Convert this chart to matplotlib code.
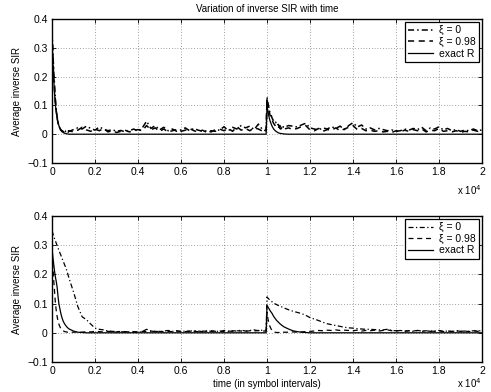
import numpy as np
import matplotlib
matplotlib.use("Agg")
import matplotlib.pyplot as plt

# time grid (symbol intervals)
t = np.concatenate([np.arange(0, 800, 40), np.arange(800, 10000, 200), [9960],
                    np.arange(10000, 10800, 40), np.arange(10800, 20001, 200)])

top_xi0 = [0.36, 0.29, 0.22, 0.17, 0.12, 0.085, 0.06, 0.042, 0.03, 0.022, 0.017, 0.013, 0.012, 0.010, 0.014, 0.012, 0.009, 0.011, 0.008, 0.012,
           0.010, 0.016, 0.022, 0.018, 0.028, 0.020, 0.014, 0.025, 0.018, 0.012, 0.016, 0.010, 0.013, 0.008, 0.012, 0.018, 0.010, 0.022, 0.045, 0.020,
           0.030, 0.015, 0.024, 0.012, 0.018, 0.010, 0.015, 0.022, 0.012, 0.020, 0.014, 0.010, 0.012, 0.008, 0.016, 0.014, 0.026, 0.012, 0.024, 0.018,
           0.030, 0.022, 0.028, 0.016, 0.035, 0.015,
           0.012,
           0.13, 0.11, 0.095, 0.08, 0.07, 0.065, 0.055, 0.05, 0.045, 0.04, 0.042, 0.035, 0.03, 0.034, 0.028, 0.03, 0.025, 0.028, 0.022, 0.026,
           0.024, 0.030, 0.028, 0.025, 0.032, 0.038, 0.022, 0.018, 0.015, 0.022, 0.018, 0.026, 0.020, 0.028, 0.016, 0.030, 0.040, 0.025, 0.032, 0.018,
           0.022, 0.015, 0.020, 0.016, 0.012, 0.015, 0.010, 0.012, 0.018, 0.014, 0.020, 0.016, 0.024, 0.012, 0.022, 0.018, 0.026, 0.015, 0.020, 0.012,
           0.016, 0.010, 0.014, 0.012, 0.018, 0.012, 0.015]

top_xi98 = [0.35, 0.27, 0.20, 0.15, 0.11, 0.08, 0.055, 0.04, 0.028, 0.02, 0.015, 0.012, 0.008, 0.010, 0.007, 0.009, 0.006, 0.008, 0.010, 0.007,
            0.012, 0.008, 0.014, 0.024, 0.015, 0.010, 0.018, 0.012, 0.020, 0.008, 0.012, 0.006, 0.010, 0.014, 0.008, 0.012, 0.016, 0.012, 0.030, 0.015,
            0.022, 0.010, 0.018, 0.008, 0.012, 0.016, 0.010, 0.014, 0.020, 0.012, 0.008, 0.014, 0.006, 0.012, 0.010, 0.018, 0.012, 0.020, 0.010, 0.026,
            0.014, 0.020, 0.012, 0.022, 0.018, 0.010,
            0.010,
            0.12, 0.10, 0.085, 0.072, 0.062, 0.055, 0.048, 0.042, 0.036, 0.032, 0.028, 0.030, 0.024, 0.022, 0.026, 0.020, 0.018, 0.022, 0.016, 0.020,
            0.018, 0.022, 0.016, 0.020, 0.026, 0.030, 0.015, 0.012, 0.020, 0.010, 0.016, 0.014, 0.022, 0.012, 0.018, 0.024, 0.030, 0.016, 0.020, 0.012,
            0.014, 0.010, 0.012, 0.008, 0.010, 0.006, 0.012, 0.008, 0.014, 0.010, 0.016, 0.012, 0.018, 0.008, 0.014, 0.012, 0.020, 0.010, 0.012, 0.008,
            0.012, 0.006, 0.010, 0.008, 0.014, 0.010, 0.012]

top_exact = [0.35, 0.25, 0.19, 0.14, 0.10, 0.075, 0.055, 0.04, 0.03, 0.022, 0.016, 0.012, 0.009, 0.006, 0.004, 0.003, 0.002, 0.0015, 0.001, 0.0005,
             0, 0, 0, 0, 0, 0, 0, 0, 0, 0, 0, 0, 0, 0, 0, 0, 0, 0, 0, 0,
             0, 0, 0, 0, 0, 0, 0, 0, 0, 0, 0, 0, 0, 0, 0, 0, 0, 0, 0, 0,
             0, 0, 0, 0, 0, 0,
             0,
             0.10, 0.08, 0.065, 0.052, 0.042, 0.034, 0.027, 0.022, 0.017, 0.014, 0.011, 0.009, 0.007, 0.005, 0.004, 0.003, 0.0025, 0.002, 0.0015, 0.001,
             0.0008, 0, 0, 0, 0, 0, 0, 0, 0, 0, 0, 0, 0, 0, 0, 0, 0, 0, 0, 0,
             0, 0, 0, 0, 0, 0, 0, 0, 0, 0, 0, 0, 0, 0, 0, 0, 0, 0, 0, 0,
             0, 0, 0, 0, 0, 0, 0]

bot_xi0 = [0.35, 0.34, 0.33, 0.322, 0.315, 0.305, 0.298, 0.29, 0.282, 0.275, 0.268, 0.26, 0.252, 0.245, 0.238, 0.23, 0.225, 0.215, 0.205, 0.195,
           0.185, 0.14, 0.09, 0.055, 0.045, 0.03, 0.016, 0.012, 0.010, 0.006, 0.005, 0.004, 0.003, 0.004, 0.002, 0.003, 0.002, 0.004, 0.012, 0.006,
           0.005, 0.004, 0.006, 0.008, 0.005, 0.007, 0.004, 0.006, 0.005, 0.008, 0.006, 0.004, 0.007, 0.005, 0.006, 0.004, 0.008, 0.005, 0.007, 0.006,
           0.009, 0.006, 0.008, 0.010, 0.007, 0.009,
           0.008,
           0.123, 0.119, 0.116, 0.113, 0.111, 0.109, 0.106, 0.104, 0.102, 0.100, 0.098, 0.097, 0.095, 0.094, 0.093, 0.092, 0.091, 0.089, 0.088, 0.087,
           0.085, 0.079, 0.074, 0.070, 0.066, 0.060, 0.052, 0.047, 0.042, 0.036, 0.031, 0.028, 0.025, 0.022, 0.019, 0.017, 0.016, 0.014, 0.013, 0.012,
           0.012, 0.011, 0.010, 0.010, 0.012, 0.008, 0.007, 0.008, 0.006, 0.007, 0.005, 0.008, 0.006, 0.007, 0.005, 0.006, 0.008, 0.005, 0.006, 0.004,
           0.007, 0.005, 0.006, 0.005, 0.007, 0.006, 0.008]

bot_xi98 = [0.27, 0.23, 0.18, 0.14, 0.10, 0.075, 0.055, 0.04, 0.03, 0.022, 0.016, 0.012, 0.009, 0.007, 0.005, 0.004, 0.003, 0.003, 0.002, 0.002,
            0.002, 0.002, 0.003, 0.002, 0.004, 0.003, 0.005, 0.004, 0.003, 0.005, 0.004, 0.003, 0.005, 0.004, 0.003, 0.004, 0.003, 0.005, 0.004, 0.006,
            0.004, 0.005, 0.003, 0.005, 0.004, 0.006, 0.005, 0.004, 0.006, 0.005, 0.004, 0.006, 0.005, 0.007, 0.005, 0.006, 0.004, 0.006, 0.005, 0.007,
            0.006, 0.005, 0.007, 0.006, 0.008, 0.006,
            0.006,
            0.07, 0.05, 0.035, 0.025, 0.018, 0.012, 0.008, 0.005, 0.003, 0.002, 0.002, 0.001, 0.001, 0.001, 0.001, 0.002, 0.001, 0.002, 0.001, 0.002,
            0.002, 0.002, 0.003, 0.002, 0.003, 0.004, 0.005, 0.006, 0.008, 0.007, 0.009, 0.008, 0.010, 0.008, 0.009, 0.008, 0.007, 0.009, 0.006, 0.008,
            0.007, 0.009, 0.006, 0.008, 0.010, 0.007, 0.006, 0.008, 0.005, 0.007, 0.006, 0.008, 0.005, 0.007, 0.006, 0.005, 0.007, 0.004, 0.006, 0.005,
            0.007, 0.005, 0.006, 0.004, 0.007, 0.005, 0.009]

bot_exact = [0.29, 0.26, 0.235, 0.21, 0.19, 0.175, 0.155, 0.125, 0.10, 0.085, 0.07, 0.058, 0.048, 0.04, 0.034, 0.029, 0.025, 0.021, 0.018, 0.015,
             0.013, 0.006, 0.002, 0.001, 0, 0, 0, 0, 0, 0, 0, 0, 0, 0, 0, 0, 0, 0, 0, 0,
             0, 0, 0, 0, 0, 0, 0, 0, 0, 0, 0, 0, 0, 0, 0, 0, 0, 0, 0, 0,
             0, 0, 0, 0, 0, 0,
             0,
             0.094, 0.089, 0.084, 0.079, 0.074, 0.070, 0.066, 0.060, 0.055, 0.051, 0.047, 0.043, 0.040, 0.037, 0.034, 0.031, 0.029, 0.026, 0.024, 0.022,
             0.020, 0.013, 0.007, 0.004, 0.002, 0.001, 0, 0, 0, 0, 0, 0, 0, 0, 0, 0, 0, 0, 0, 0,
             0, 0, 0, 0, 0, 0, 0, 0, 0, 0, 0, 0, 0, 0, 0, 0, 0, 0, 0, 0,
             0, 0, 0, 0, 0, 0, 0]

xticks = [0, 2000, 4000, 6000, 8000, 10000, 12000, 14000, 16000, 18000, 20000]
xticklabels = ["0", "0.2", "0.4", "0.6", "0.8", "1", "1.2", "1.4", "1.6", "1.8", "2"]
yticks = [-0.1, 0, 0.1, 0.2, 0.3, 0.4]
yticklabels = ["\u22120.1", "0", "0.1", "0.2", "0.3", "0.4"]
labels = ["\u03be = 0", "\u03be = 0.98", "exact R"]

plt.rcParams['font.family'] = ['Liberation Sans', 'DejaVu Sans']
plt.rcParams['font.size'] = 7

fig = plt.figure(figsize=(4.91, 3.92), dpi=100)
L, W = 52 / 491, 430 / 491
ax1 = fig.add_axes([L, 1 - 163 / 392, W, 144 / 392])
ax2 = fig.add_axes([L, 1 - 362 / 392, W, 146 / 392])

for ax, (a, b, c), off in zip([ax1, ax2],
                              [(top_xi0, top_xi98, top_exact), (bot_xi0, bot_xi98, bot_exact)],
                              [-27, -21]):
    lw_noisy = 1.1 if ax is ax1 else 0.9
    ax.plot(t, a, color='black', lw=lw_noisy, ls=(0, (4, 2, 1, 2)), label=labels[0])
    ax.plot(t, b, color='black', lw=lw_noisy, ls=(0, (4, 3)), label=labels[1])
    ax.plot(t, c, color='black', lw=0.9, ls='-', label=labels[2])
    ax.set_xlim(0, 20000)
    ax.set_ylim(-0.1, 0.4)
    ax.set_xticks(xticks)
    ax.set_xticklabels(xticklabels)
    ax.set_yticks(yticks)
    ax.set_yticklabels(yticklabels)
    ax.tick_params(direction='in', length=3, width=0.6, labelsize=7.5, top=True, right=True, pad=3)
    ax.grid(True, ls=(0, (1, 3)), color='black', lw=0.5, alpha=0.7)
    for s in ax.spines.values():
        s.set_linewidth(1.0)
    ax.set_ylabel("Average inverse SIR", fontsize=7, labelpad=4)
    leg = ax.legend(loc='upper right', fontsize=7.5, frameon=True, fancybox=False,
                    edgecolor='black', framealpha=1, borderaxespad=0.3,
                    handlelength=2.4, handletextpad=0.6, labelspacing=0.15, borderpad=0.3)
    leg.get_frame().set_linewidth(0.9)
    ax.annotate("x 10$^{4}$", xy=(1.0, 0.0), xycoords='axes fraction',
                xytext=(0, off), textcoords='offset pixels',
                ha='right', va='center', fontsize=7)

ax1.set_title("Variation of inverse SIR with time", fontsize=7, pad=5)
ax2.set_xlabel("time (in symbol intervals)", fontsize=7, labelpad=2)

fig.savefig("out.png", dpi=100)
